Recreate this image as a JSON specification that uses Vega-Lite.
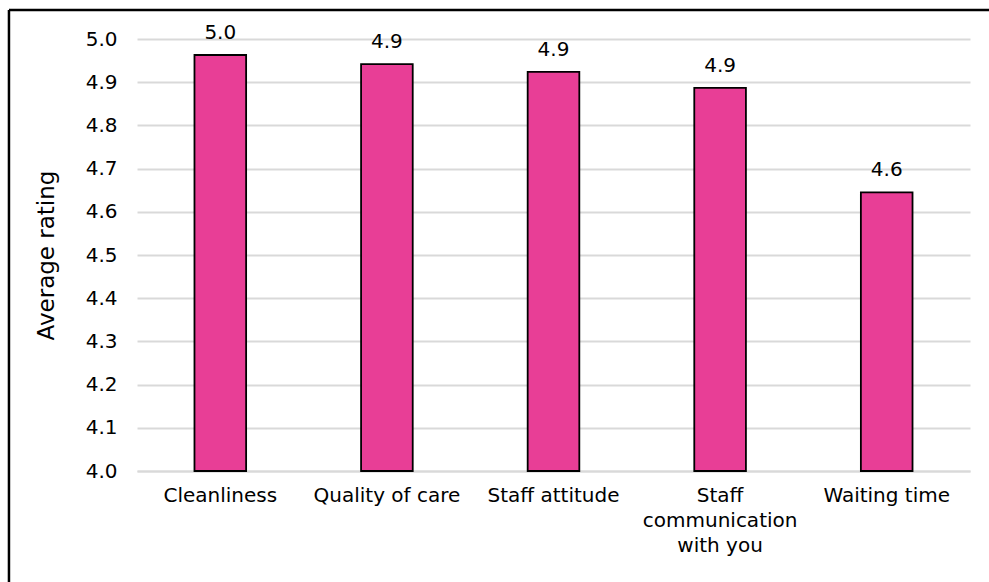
{
  "$schema": "https://vega.github.io/schema/vega-lite/v6.json",
  "width": 833,
  "height": 432,
  "autosize": {"type": "none"},
  "padding": {"left": 137, "top": 39, "right": 19, "bottom": 111},
  "background": "white",
  "config": {
    "view": {"stroke": null},
    "font": "DejaVu Sans",
    "axis": {"labelFont": "DejaVu Sans", "titleFont": "DejaVu Sans", "labelColor": "#000000", "titleColor": "#000000"}
  },
  "layer": [
    {
      "data": {
        "values": [
          {"aspect": "Cleanliness", "rating": 4.963},
          {"aspect": "Quality of care", "rating": 4.942},
          {"aspect": "Staff attitude", "rating": 4.924},
          {"aspect": "Staff communication with you", "rating": 4.887},
          {"aspect": "Waiting time", "rating": 4.645}
        ]
      },
      "layer": [
        {
          "mark": {"type": "bar", "fill": "#E83E96", "stroke": "#000000", "strokeWidth": 1.8},
          "encoding": {
            "x": {
              "field": "aspect", "type": "nominal", "sort": null,
              "scale": {"paddingInner": 0.69, "paddingOuter": 0.345},
              "axis": {
                "title": null, "labelAngle": 0, "labelFontSize": 20, "labelPadding": 14,
                "ticks": false, "domainColor": "#D9D9D9", "domainWidth": 2,
                "labelLineHeight": 25, "labelLimit": 300,
                "labelExpr": "datum.value == 'Staff communication with you' ? ['Staff', 'communication', 'with you'] : datum.value"
              }
            },
            "y": {
              "field": "rating", "type": "quantitative",
              "scale": {"domain": [4, 5], "zero": false},
              "axis": {
                "title": "Average rating", "titleFontSize": 23, "titleFontWeight": "normal", "titlePadding": 27,
                "values": [4.0, 4.1, 4.2, 4.3, 4.4, 4.5, 4.6, 4.7, 4.8, 4.9, 5.0],
                "format": ".1f", "labelFontSize": 20, "labelPadding": 20,
                "ticks": false, "domain": false,
                "gridColor": "#D9D9D9", "gridWidth": 2
              }
            },
            "y2": {"datum": 4}
          }
        },
        {
          "mark": {"type": "text", "baseline": "bottom", "dy": -12, "fontSize": 20, "color": "#000000"},
          "encoding": {
            "x": {"field": "aspect", "type": "nominal", "sort": null},
            "y": {"field": "rating", "type": "quantitative"},
            "text": {"field": "rating", "type": "quantitative", "format": ".1f"}
          }
        }
      ]
    },
    {
      "data": {"values": [{"k": 1}]},
      "layer": [
        {
          "mark": {"type": "rule", "color": "#000000", "strokeWidth": 2.5},
          "encoding": {
            "x": {"datum": -0.1537, "type": "quantitative", "scale": {"domain": [0, 1]}, "axis": null},
            "x2": {"datum": 1.2},
            "y": {"datum": 5.0671, "type": "quantitative"}
          }
        },
        {
          "mark": {"type": "rule", "color": "#000000", "strokeWidth": 2.5},
          "encoding": {
            "x": {"datum": -0.1537, "type": "quantitative", "scale": {"domain": [0, 1]}, "axis": null},
            "y": {"datum": 5.0671, "type": "quantitative"},
            "y2": {"datum": 3.4}
          }
        }
      ]
    }
  ],
  "resolve": {"scale": {"x": "independent"}}
}
